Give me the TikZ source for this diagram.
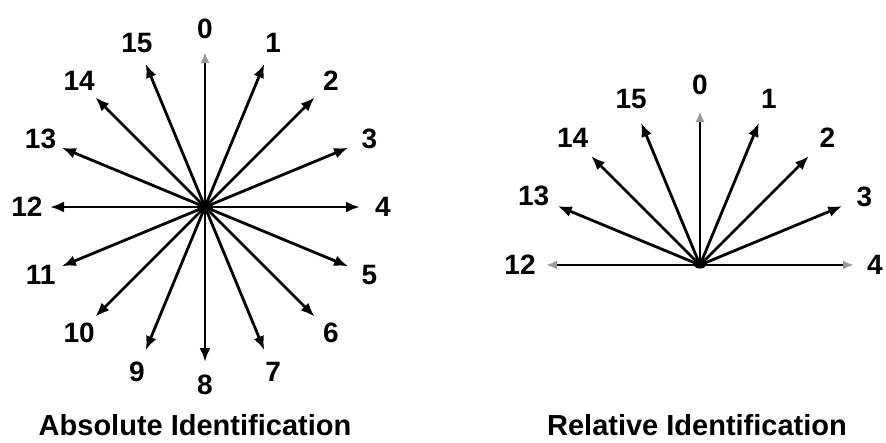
\documentclass[tikz,border=0pt]{standalone}
\usepackage{fontspec}
\setmainfont{Liberation Sans}
\usetikzlibrary{arrows.meta}
\begin{document}
\begin{tikzpicture}[x=1pt,y=-1pt,
  ray/.style={line width=2.8pt,-{Latex[length=14pt,width=11pt]}},
  fainttip/.style={-{Latex[length=11pt,width=9pt,color=black!40]}},
  dirlabel/.style={font=\bfseries\fontsize{28}{28}\selectfont,inner sep=0pt},
  caption/.style={font=\bfseries\fontsize{29}{29}\selectfont,inner sep=0pt}]
\useasboundingbox (0,0) rectangle (886,442);

% absolute identification: sixteen rays around one point
\coordinate (A) at (205,207);
\foreach \k in {0,...,15} {
  \pgfmathsetmacro\ang{22.5*\k-90}
  \coordinate (A\k) at ([shift={(\ang:155)}]A);
  \node[dirlabel] (LA\k) at ([shift={(\ang:178)}]A) {\k};
}
\draw[ray,fainttip] (A) -- (A0);
\foreach \k in {1,...,15} \draw[ray] (A) -- (A\k);
\fill (A) ellipse [x radius=8pt,y radius=6pt];

% relative identification: half fan from 12 through 4
\coordinate (B) at (700,265);
\foreach \k/\r in {12/180,13/180,14/180,15/180,0/180,1/180,2/180,3/178,4/175} {
  \pgfmathsetmacro\ang{22.5*\k-90}
  \coordinate (B\k) at ([shift={(\ang:154)}]B);
  \node[dirlabel] (LB\k) at ([shift={(\ang:\r)}]B) {\k};
}
\foreach \k in {13,14,15,1,2,3} \draw[ray] (B) -- (B\k);
\foreach \k in {12,0,4} \draw[ray,fainttip] (B) -- (B\k);
\fill (B) ellipse [x radius=6pt,y radius=3.5pt];

% captions
\node[caption] (capA) at (195,425) {Absolute Identification};
\node[caption] (capB) at (697,425) {Relative Identification};
\end{tikzpicture}
\end{document}
